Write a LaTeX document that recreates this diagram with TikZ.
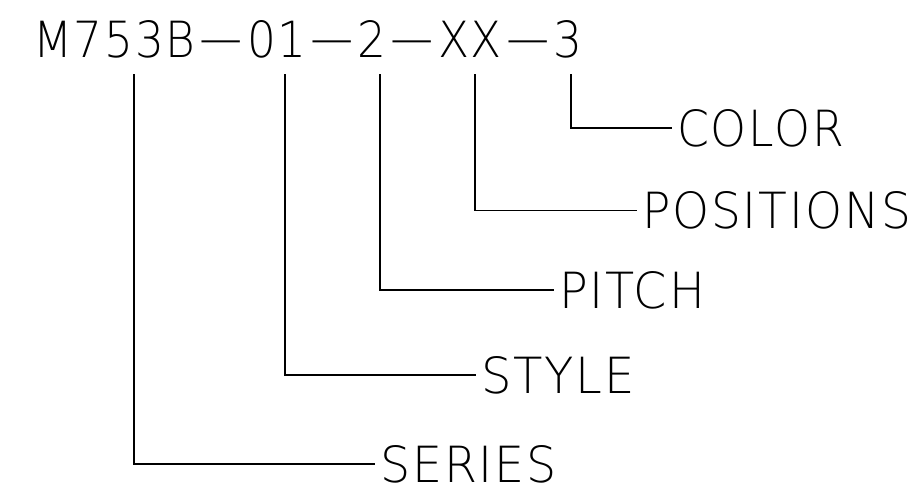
\documentclass[tikz,border=0pt]{standalone}
\usepackage{fontspec}
\usepackage{graphicx}
\newfontfamily\cadfont{DejaVu Sans ExtraLight}[LetterSpace=4]
\tikzset{
  lead/.style={draw=black, line width=1.6pt},
  partlabel/.style={anchor=west, inner xsep=5pt, inner ysep=0pt, outer sep=0pt},
  titlelabel/.style={anchor=north west, inner sep=0pt, outer sep=0pt}
}
\newcommand{\cadtext}[3]{\resizebox{#1pt}{#2pt}{\cadfont #3}}
\newcommand{\caddash}{\scalebox{1.35}[1]{−}}
\begin{document}
\begin{tikzpicture}[x=1pt, y=-1pt]
  \useasboundingbox[fill=white] (0,0) rectangle (918,491);
  \node[titlelabel] (title) at (33,20) {\cadtext{549}{37}{M753B\caddash 01\caddash 2\caddash XX\caddash 3}};
  \coordinate (pSeries) at (134,74);
  \coordinate (pStyle) at (285,74);
  \coordinate (pPitch) at (380,74);
  \coordinate (pPos) at (475,74);
  \coordinate (pColor) at (571,74);
  \node[partlabel] (color) at (672,128) {\cadtext{167}{37}{COLOR}};
  \node[partlabel] (positions) at (637,210.5) {\cadtext{269}{37}{POSITIONS}};
  \node[partlabel] (pitch) at (554,290) {\cadtext{146}{37}{PITCH}};
  \node[partlabel] (style) at (476,375) {\cadtext{154}{37}{STYLE}};
  \node[partlabel] (series) at (375,464) {\cadtext{177}{37}{SERIES}};
  \draw[lead] (pColor) |- (color.west);
  \draw[lead] (pPos) |- (positions.west);
  \draw[lead] (pPitch) |- (pitch.west);
  \draw[lead] (pStyle) |- (style.west);
  \draw[lead] (pSeries) |- (series.west);
\end{tikzpicture}
\end{document}
